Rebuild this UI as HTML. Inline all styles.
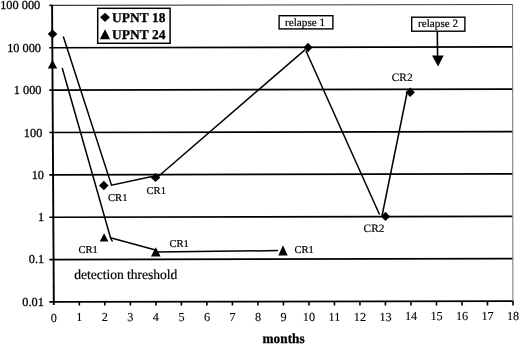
<!DOCTYPE html>
<html><head><meta charset="utf-8"><style>
html,body{margin:0;padding:0;background:#fff;}
body{width:520px;height:344px;overflow:hidden;}
svg{display:block;will-change:transform;}
text{font-family:"Liberation Serif", serif;fill:#000;stroke:#000;stroke-width:2.0px;text-rendering:geometricPrecision;}
</style></head><body>
<svg width="520" height="344" viewBox="0 0 520 344">
<rect width="520" height="344" fill="#fff"/>
<line x1="52.18" y1="5.37" x2="512.60" y2="4.45" stroke="#383838" stroke-width="1.1"/>
<line x1="49.30" y1="5.38" x2="52.18" y2="5.38" stroke="#000" stroke-width="1.6"/>
<line x1="49.30" y1="47.75" x2="512.60" y2="46.82" stroke="#000" stroke-width="1.7"/>
<line x1="49.30" y1="90.12" x2="512.60" y2="89.19" stroke="#000" stroke-width="1.7"/>
<line x1="49.30" y1="132.49" x2="512.60" y2="131.56" stroke="#000" stroke-width="1.7"/>
<line x1="49.30" y1="174.86" x2="512.60" y2="173.93" stroke="#000" stroke-width="1.7"/>
<line x1="49.30" y1="217.23" x2="512.60" y2="216.30" stroke="#000" stroke-width="1.7"/>
<line x1="49.30" y1="259.60" x2="512.60" y2="258.67" stroke="#000" stroke-width="1.7"/>
<line x1="49.30" y1="301.97" x2="513.10" y2="301.04" stroke="#000" stroke-width="1.8"/>
<line x1="512.60" y1="4.45" x2="512.90" y2="301.04" stroke="#707070" stroke-width="1.0"/>
<line x1="52.08" y1="4.88" x2="53.83" y2="305.00" stroke="#000" stroke-width="1.9"/>
<line x1="79.33" y1="301.91" x2="79.34" y2="305.50" stroke="#000" stroke-width="1.6"/>
<line x1="104.84" y1="301.86" x2="104.86" y2="305.50" stroke="#000" stroke-width="1.6"/>
<line x1="130.34" y1="301.81" x2="130.37" y2="305.50" stroke="#000" stroke-width="1.6"/>
<line x1="155.86" y1="301.76" x2="155.88" y2="305.50" stroke="#000" stroke-width="1.6"/>
<line x1="181.37" y1="301.71" x2="181.39" y2="305.50" stroke="#000" stroke-width="1.6"/>
<line x1="206.88" y1="301.66" x2="206.90" y2="305.50" stroke="#000" stroke-width="1.6"/>
<line x1="232.39" y1="301.61" x2="232.41" y2="305.50" stroke="#000" stroke-width="1.6"/>
<line x1="257.89" y1="301.55" x2="257.91" y2="305.50" stroke="#000" stroke-width="1.6"/>
<line x1="283.40" y1="301.50" x2="283.42" y2="305.50" stroke="#000" stroke-width="1.6"/>
<line x1="308.92" y1="301.45" x2="308.94" y2="305.50" stroke="#000" stroke-width="1.6"/>
<line x1="334.43" y1="301.40" x2="334.44" y2="305.50" stroke="#000" stroke-width="1.6"/>
<line x1="359.94" y1="301.35" x2="359.95" y2="305.50" stroke="#000" stroke-width="1.6"/>
<line x1="385.44" y1="301.30" x2="385.46" y2="305.50" stroke="#000" stroke-width="1.6"/>
<line x1="410.96" y1="301.25" x2="410.98" y2="305.50" stroke="#000" stroke-width="1.6"/>
<line x1="436.47" y1="301.20" x2="436.49" y2="305.50" stroke="#000" stroke-width="1.6"/>
<line x1="461.98" y1="301.15" x2="462.00" y2="305.50" stroke="#000" stroke-width="1.6"/>
<line x1="487.49" y1="301.10" x2="487.50" y2="305.50" stroke="#000" stroke-width="1.6"/>
<line x1="513.00" y1="301.04" x2="513.01" y2="305.50" stroke="#000" stroke-width="1.6"/>
<text transform="translate(40.20,9.40) scale(0.1000,0.1000)" font-size="123.0" text-anchor="end" font-weight="normal"  style="stroke-width:3.00px">100 000</text>
<text transform="translate(41.00,52.07) scale(0.1000,0.1000)" font-size="123.0" text-anchor="end" font-weight="normal"  style="stroke-width:3.00px">10 000</text>
<text transform="translate(41.50,94.44) scale(0.1000,0.1000)" font-size="123.0" text-anchor="end" font-weight="normal"  style="stroke-width:3.00px">1 000</text>
<text transform="translate(42.30,136.61) scale(0.1000,0.1000)" font-size="123.0" text-anchor="end" font-weight="normal"  style="stroke-width:3.00px">100</text>
<text transform="translate(44.00,178.88) scale(0.1000,0.1000)" font-size="123.0" text-anchor="end" font-weight="normal"  style="stroke-width:3.00px">10</text>
<text transform="translate(44.20,221.05) scale(0.1000,0.1000)" font-size="123.0" text-anchor="end" font-weight="normal"  style="stroke-width:3.00px">1</text>
<text transform="translate(44.20,263.42) scale(0.1000,0.1000)" font-size="123.0" text-anchor="end" font-weight="normal"  style="stroke-width:3.00px">0.1</text>
<text transform="translate(43.80,306.09) scale(0.1000,0.1000)" font-size="123.0" text-anchor="end" font-weight="normal"  style="stroke-width:3.00px">0.01</text>
<text transform="translate(53.90,321.50) scale(0.1000,0.1000)" font-size="123.0" text-anchor="middle" font-weight="normal"  style="stroke-width:1.20px">0</text>
<text transform="translate(79.41,321.42) scale(0.1000,0.1000)" font-size="123.0" text-anchor="middle" font-weight="normal"  style="stroke-width:1.20px">1</text>
<text transform="translate(104.92,321.34) scale(0.1000,0.1000)" font-size="123.0" text-anchor="middle" font-weight="normal"  style="stroke-width:1.20px">2</text>
<text transform="translate(130.43,321.27) scale(0.1000,0.1000)" font-size="123.0" text-anchor="middle" font-weight="normal"  style="stroke-width:1.20px">3</text>
<text transform="translate(155.94,321.19) scale(0.1000,0.1000)" font-size="123.0" text-anchor="middle" font-weight="normal"  style="stroke-width:1.20px">4</text>
<text transform="translate(181.45,321.11) scale(0.1000,0.1000)" font-size="123.0" text-anchor="middle" font-weight="normal"  style="stroke-width:1.20px">5</text>
<text transform="translate(206.96,321.04) scale(0.1000,0.1000)" font-size="123.0" text-anchor="middle" font-weight="normal"  style="stroke-width:1.20px">6</text>
<text transform="translate(232.47,320.96) scale(0.1000,0.1000)" font-size="123.0" text-anchor="middle" font-weight="normal"  style="stroke-width:1.20px">7</text>
<text transform="translate(257.98,320.89) scale(0.1000,0.1000)" font-size="123.0" text-anchor="middle" font-weight="normal"  style="stroke-width:1.20px">8</text>
<text transform="translate(283.49,320.81) scale(0.1000,0.1000)" font-size="123.0" text-anchor="middle" font-weight="normal"  style="stroke-width:1.20px">9</text>
<text transform="translate(309.00,320.73) scale(0.1000,0.1000)" font-size="123.0" text-anchor="middle" font-weight="normal"  style="stroke-width:1.20px">10</text>
<text transform="translate(334.51,320.66) scale(0.1000,0.1000)" font-size="123.0" text-anchor="middle" font-weight="normal"  style="stroke-width:1.20px">11</text>
<text transform="translate(360.02,320.58) scale(0.1000,0.1000)" font-size="123.0" text-anchor="middle" font-weight="normal"  style="stroke-width:1.20px">12</text>
<text transform="translate(385.53,320.50) scale(0.1000,0.1000)" font-size="123.0" text-anchor="middle" font-weight="normal"  style="stroke-width:1.20px">13</text>
<text transform="translate(411.04,320.43) scale(0.1000,0.1000)" font-size="123.0" text-anchor="middle" font-weight="normal"  style="stroke-width:1.20px">14</text>
<text transform="translate(436.55,320.35) scale(0.1000,0.1000)" font-size="123.0" text-anchor="middle" font-weight="normal"  style="stroke-width:1.20px">15</text>
<text transform="translate(462.06,320.27) scale(0.1000,0.1000)" font-size="123.0" text-anchor="middle" font-weight="normal"  style="stroke-width:1.20px">16</text>
<text transform="translate(487.57,320.20) scale(0.1000,0.1000)" font-size="123.0" text-anchor="middle" font-weight="normal"  style="stroke-width:1.20px">17</text>
<text transform="translate(513.08,320.12) scale(0.1000,0.1000)" font-size="123.0" text-anchor="middle" font-weight="normal"  style="stroke-width:1.20px">18</text>
<text transform="translate(283.60,343.30) scale(0.0950,0.1000)" font-size="140.0" text-anchor="middle" font-weight="bold"  style="stroke-width:3.00px">months</text>
<rect x="97.7" y="8.3" width="72.4" height="35" fill="#fff" stroke="#000" stroke-width="1.5"/>
<polygon points="105.00,12.70 109.90,17.30 105.00,21.90 100.10,17.30" fill="#000"/>
<polygon points="105.00,29.30 110.10,39.20 99.90,39.20" fill="#000"/>
<text transform="translate(112.00,22.00) scale(0.1000,0.1000)" font-size="135.0" text-anchor="start" font-weight="bold"  style="stroke-width:3.00px">UPNT 18</text>
<text transform="translate(112.00,39.40) scale(0.1000,0.1000)" font-size="135.0" text-anchor="start" font-weight="bold"  style="stroke-width:3.00px">UPNT 24</text>
<rect x="279.1" y="15.7" width="53.8" height="13.2" fill="#fff" stroke="#000" stroke-width="1.4"/>
<text transform="translate(285.00,26.40) scale(0.1000,0.1000)" font-size="112.0" text-anchor="start" font-weight="normal" >relapse 1</text>
<rect x="411.7" y="17.2" width="53.2" height="14.0" fill="#fff" stroke="#000" stroke-width="1.4"/>
<text transform="translate(418.00,27.40) scale(0.1000,0.1000)" font-size="112.0" text-anchor="start" font-weight="normal" >relapse 2</text>
<line x1="437.30" y1="31.50" x2="437.60" y2="56.00" stroke="#000" stroke-width="1.6"/>
<polygon points="432,55.4 443.6,55.4 438.1,66.4" fill="#000"/>
<polyline points="63.30,36.50 111.50,185.20 152.00,176.50" fill="none" stroke="#000" stroke-width="1.5" stroke-linejoin="miter"/>
<line x1="158.50" y1="176.30" x2="305.20" y2="49.60" stroke="#000" stroke-width="1.5"/>
<line x1="306.00" y1="51.00" x2="379.50" y2="214.50" stroke="#000" stroke-width="1.5"/>
<line x1="382.00" y1="216.00" x2="407.00" y2="93.00" stroke="#000" stroke-width="1.5"/>
<polyline points="62.20,68.00 110.50,237.80 112.50,241.50" fill="none" stroke="#000" stroke-width="1.5" stroke-linejoin="miter"/>
<line x1="110.50" y1="237.80" x2="155.50" y2="250.00" stroke="#000" stroke-width="1.5"/>
<line x1="157.50" y1="252.10" x2="278.00" y2="250.60" stroke="#000" stroke-width="1.5"/>
<polygon points="52.50,29.40 57.30,34.00 52.50,38.60 47.70,34.00" fill="#000"/>
<polygon points="103.80,180.80 108.60,185.50 103.80,190.20 99.00,185.50" fill="#000"/>
<polygon points="155.50,172.90 160.30,177.50 155.50,182.10 150.70,177.50" fill="#000"/>
<polygon points="308.00,42.70 312.50,47.50 308.00,52.30 303.50,47.50" fill="#000"/>
<polygon points="385.50,211.80 390.00,216.40 385.50,221.00 381.00,216.40" fill="#000"/>
<polygon points="410.20,87.50 414.90,92.30 410.20,97.10 405.50,92.30" fill="#000"/>
<polygon points="52.50,59.80 57.20,68.60 47.80,68.60" fill="#000"/>
<polygon points="104.10,233.30 108.40,241.60 99.80,241.60" fill="#000"/>
<polygon points="155.80,247.30 160.65,256.50 150.95,256.50" fill="#000"/>
<polygon points="283.00,245.30 287.70,255.40 278.30,255.40" fill="#000"/>
<text transform="translate(108.00,200.60) scale(0.1000,0.1000)" font-size="106.0" text-anchor="start" font-weight="normal" >CR1</text>
<text transform="translate(146.50,193.90) scale(0.1000,0.1000)" font-size="106.0" text-anchor="start" font-weight="normal" >CR1</text>
<text transform="translate(78.40,253.00) scale(0.1000,0.1000)" font-size="106.0" text-anchor="start" font-weight="normal" >CR1</text>
<text transform="translate(169.40,247.30) scale(0.1000,0.1000)" font-size="106.0" text-anchor="start" font-weight="normal" >CR1</text>
<text transform="translate(294.40,253.00) scale(0.1000,0.1000)" font-size="106.0" text-anchor="start" font-weight="normal" >CR1</text>
<text transform="translate(363.60,232.30) scale(0.1000,0.1000)" font-size="114.0" text-anchor="start" font-weight="normal" >CR2</text>
<text transform="translate(391.70,80.80) scale(0.1000,0.1000)" font-size="114.0" text-anchor="start" font-weight="normal" >CR2</text>
<text transform="translate(74.20,278.60) scale(0.0972,0.1000)" font-size="139.0" text-anchor="start" font-weight="normal" >detection threshold</text>
</svg>
</body></html>
